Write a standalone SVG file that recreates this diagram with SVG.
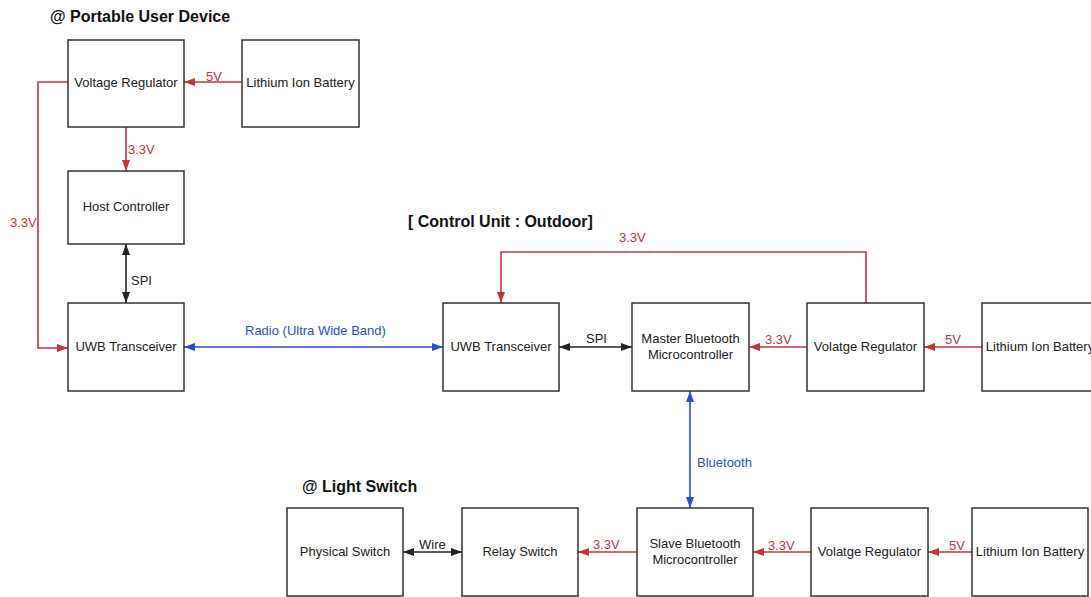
<svg xmlns="http://www.w3.org/2000/svg" width="1091" height="597" viewBox="0 0 1091 597">
<style>
.box{fill:#fff;stroke:#333;stroke-width:1.5}
.t{font-family:"Liberation Sans",Arial,sans-serif;font-size:13px;fill:#222;text-anchor:middle}
.h{font-family:"Liberation Sans",Arial,sans-serif;font-size:16px;font-weight:bold;fill:#111}
.lr{font-family:"Liberation Sans",Arial,sans-serif;font-size:13px;fill:#c1373c}
.lb{font-family:"Liberation Sans",Arial,sans-serif;font-size:13px;fill:#2c4fd0}
.lk{font-family:"Liberation Sans",Arial,sans-serif;font-size:13px;fill:#222}
.r{fill:none;stroke:#c1373c;stroke-width:1.6}
.b{fill:none;stroke:#2c4fd0;stroke-width:1.6}
.k{fill:none;stroke:#222;stroke-width:1.6}
</style>
<defs>
<marker id="ar" viewBox="0 0 11 8" refX="11" refY="4" markerWidth="11" markerHeight="8" markerUnits="userSpaceOnUse" orient="auto-start-reverse"><path d="M0,0 L11,4 L0,8 z" fill="#c1373c"/></marker>
<marker id="ab" viewBox="0 0 11 8" refX="11" refY="4" markerWidth="11" markerHeight="8" markerUnits="userSpaceOnUse" orient="auto-start-reverse"><path d="M0,0 L11,4 L0,8 z" fill="#2c4fd0"/></marker>
<marker id="ak" viewBox="0 0 11 8" refX="11" refY="4" markerWidth="11" markerHeight="8" markerUnits="userSpaceOnUse" orient="auto-start-reverse"><path d="M0,0 L11,4 L0,8 z" fill="#222"/></marker>
</defs>
<rect width="1091" height="597" fill="#fff"/>
<text class="h" x="50" y="22">@ Portable User Device</text>
<text class="h" x="408" y="227">[ Control Unit : Outdoor]</text>
<text class="h" x="302" y="492">@ Light Switch</text>

<g id="connectors">
<path class="r" d="M242,82 L184,82" marker-end="url(#ar)"/>
<path class="r" d="M68,82 L38,82 L38,348 L68,348" marker-end="url(#ar)"/>
<path class="r" d="M126,127 L126,171" marker-end="url(#ar)"/>
<path class="k" d="M126,244 L126,303" marker-start="url(#ak)" marker-end="url(#ak)"/>
<path class="b" d="M184,347 L443,347" marker-start="url(#ab)" marker-end="url(#ab)"/>
<path class="k" d="M559,347 L632,347" marker-start="url(#ak)" marker-end="url(#ak)"/>
<path class="r" d="M807,347 L749,347" marker-end="url(#ar)"/>
<path class="r" d="M982,347 L924,347" marker-end="url(#ar)"/>
<path class="r" d="M866,303 L866,252 L501,252 L501,303" marker-end="url(#ar)"/>
<path class="b" d="M690,391 L690,508" marker-start="url(#ab)" marker-end="url(#ab)"/>
<path class="k" d="M403,552 L462,552" marker-start="url(#ak)" marker-end="url(#ak)"/>
<path class="r" d="M637,552 L578,552" marker-end="url(#ar)"/>
<path class="r" d="M811,552 L753,552" marker-end="url(#ar)"/>
<path class="r" d="M972,552 L928,552" marker-end="url(#ar)"/>
<text class="lr" x="206" y="81">5V</text>
<text class="lr" x="128" y="154">3.3V</text>
<text class="lr" x="10" y="227">3.3V</text>
<text class="lk" x="131" y="285">SPI</text>
<text class="lb" x="245" y="335">Radio (Ultra Wide Band)</text>
<text class="lk" x="586" y="343">SPI</text>
<text class="lr" x="765" y="344">3.3V</text>
<text class="lr" x="945" y="344">5V</text>
<text class="lr" x="619" y="242">3.3V</text>
<text class="lb" x="697" y="467">Bluetooth</text>
<text class="lk" x="419" y="549">Wire</text>
<text class="lr" x="593" y="549">3.3V</text>
<text class="lr" x="768" y="550">3.3V</text>
<text class="lr" x="949" y="550">5V</text>
</g>

<g id="pud-vreg"><rect class="box" x="68" y="40" width="116" height="87"/><text class="t" x="126" y="87">Voltage Regulator</text></g>
<g id="pud-battery"><rect class="box" x="242" y="40" width="117" height="87"/><text class="t" x="300.5" y="87">Lithium Ion Battery</text></g>
<g id="pud-host"><rect class="box" x="68" y="171" width="116" height="73"/><text class="t" x="126" y="211">Host Controller</text></g>
<g id="pud-uwb"><rect class="box" x="68" y="303" width="116" height="88"/><text class="t" x="126" y="351">UWB Transceiver</text></g>

<g id="cu-uwb"><rect class="box" x="443" y="303" width="116" height="88"/><text class="t" x="501" y="351">UWB Transceiver</text></g>
<g id="cu-master"><rect class="box" x="632" y="303" width="117" height="88"/><text class="t" x="690.5" y="343">Master Bluetooth</text><text class="t" x="690.5" y="359">Microcontroller</text></g>
<g id="cu-vreg"><rect class="box" x="807" y="303" width="117" height="88"/><text class="t" x="865.5" y="351">Volatge Regulator</text></g>
<g id="cu-battery"><rect class="box" x="982" y="303" width="116" height="88"/><text class="t" x="1040" y="351">Lithium Ion Battery</text></g>

<g id="ls-physical"><rect class="box" x="287" y="508" width="116" height="88"/><text class="t" x="345" y="556">Physical Switch</text></g>
<g id="ls-relay"><rect class="box" x="462" y="508" width="116" height="88"/><text class="t" x="520" y="556">Relay Switch</text></g>
<g id="ls-slave"><rect class="box" x="637" y="508" width="116" height="88"/><text class="t" x="695" y="548">Slave Bluetooth</text><text class="t" x="695" y="564">Microcontroller</text></g>
<g id="ls-vreg"><rect class="box" x="811" y="508" width="117" height="88"/><text class="t" x="869.5" y="556">Volatge Regulator</text></g>
<g id="ls-battery"><rect class="box" x="972" y="508" width="116" height="88"/><text class="t" x="1030" y="556">Lithium Ion Battery</text></g>
</svg>
